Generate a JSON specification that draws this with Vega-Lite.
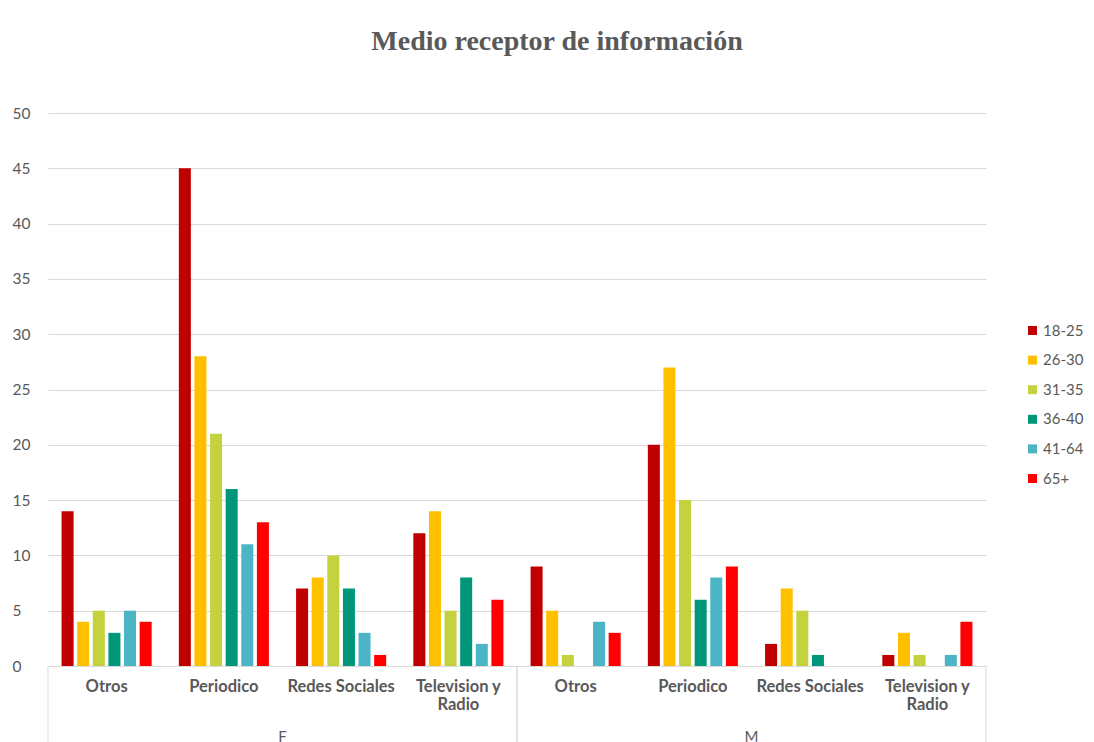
{
  "$schema": "https://vega.github.io/schema/vega-lite/v6.json",
  "autosize": "none",
  "width": 938,
  "height": 553,
  "padding": {"left": 48, "top": 113, "right": 108, "bottom": 76},
  "background": "white",
  "title": {
    "text": "Medio receptor de información",
    "font": "Liberation Serif",
    "fontSize": 28,
    "fontWeight": "bold",
    "color": "#595959",
    "anchor": "middle",
    "dx": 40,
    "offset": 50
  },
  "config": {
    "font": "Lato",
    "view": {"stroke": null}
  },
  "datasets": {
    "respuestas": [
      {"cat": "F|Otros", "edad": "18-25", "valor": 14},
      {"cat": "F|Otros", "edad": "26-30", "valor": 4},
      {"cat": "F|Otros", "edad": "31-35", "valor": 5},
      {"cat": "F|Otros", "edad": "36-40", "valor": 3},
      {"cat": "F|Otros", "edad": "41-64", "valor": 5},
      {"cat": "F|Otros", "edad": "65+", "valor": 4},
      {"cat": "F|Periodico", "edad": "18-25", "valor": 45},
      {"cat": "F|Periodico", "edad": "26-30", "valor": 28},
      {"cat": "F|Periodico", "edad": "31-35", "valor": 21},
      {"cat": "F|Periodico", "edad": "36-40", "valor": 16},
      {"cat": "F|Periodico", "edad": "41-64", "valor": 11},
      {"cat": "F|Periodico", "edad": "65+", "valor": 13},
      {"cat": "F|Redes Sociales", "edad": "18-25", "valor": 7},
      {"cat": "F|Redes Sociales", "edad": "26-30", "valor": 8},
      {"cat": "F|Redes Sociales", "edad": "31-35", "valor": 10},
      {"cat": "F|Redes Sociales", "edad": "36-40", "valor": 7},
      {"cat": "F|Redes Sociales", "edad": "41-64", "valor": 3},
      {"cat": "F|Redes Sociales", "edad": "65+", "valor": 1},
      {"cat": "F|Television y Radio", "edad": "18-25", "valor": 12},
      {"cat": "F|Television y Radio", "edad": "26-30", "valor": 14},
      {"cat": "F|Television y Radio", "edad": "31-35", "valor": 5},
      {"cat": "F|Television y Radio", "edad": "36-40", "valor": 8},
      {"cat": "F|Television y Radio", "edad": "41-64", "valor": 2},
      {"cat": "F|Television y Radio", "edad": "65+", "valor": 6},
      {"cat": "M|Otros", "edad": "18-25", "valor": 9},
      {"cat": "M|Otros", "edad": "26-30", "valor": 5},
      {"cat": "M|Otros", "edad": "31-35", "valor": 1},
      {"cat": "M|Otros", "edad": "41-64", "valor": 4},
      {"cat": "M|Otros", "edad": "65+", "valor": 3},
      {"cat": "M|Periodico", "edad": "18-25", "valor": 20},
      {"cat": "M|Periodico", "edad": "26-30", "valor": 27},
      {"cat": "M|Periodico", "edad": "31-35", "valor": 15},
      {"cat": "M|Periodico", "edad": "36-40", "valor": 6},
      {"cat": "M|Periodico", "edad": "41-64", "valor": 8},
      {"cat": "M|Periodico", "edad": "65+", "valor": 9},
      {"cat": "M|Redes Sociales", "edad": "18-25", "valor": 2},
      {"cat": "M|Redes Sociales", "edad": "26-30", "valor": 7},
      {"cat": "M|Redes Sociales", "edad": "31-35", "valor": 5},
      {"cat": "M|Redes Sociales", "edad": "36-40", "valor": 1},
      {"cat": "M|Television y Radio", "edad": "18-25", "valor": 1},
      {"cat": "M|Television y Radio", "edad": "26-30", "valor": 3},
      {"cat": "M|Television y Radio", "edad": "31-35", "valor": 1},
      {"cat": "M|Television y Radio", "edad": "41-64", "valor": 1},
      {"cat": "M|Television y Radio", "edad": "65+", "valor": 4}
    ],
    "grupos": [
      {"sexo": "F", "inicio": "F|Otros", "centro": "F|Periodico", "fin": "F|Television y Radio"},
      {"sexo": "M", "inicio": "M|Otros", "centro": "M|Periodico", "fin": "M|Television y Radio"}
    ]
  },
  "layer": [
    {
      "data": {"name": "respuestas"},
      "mark": {"type": "bar"},
      "encoding": {
        "x": {
          "field": "cat",
          "type": "nominal",
          "scale": {
            "domain": ["F|Otros", "F|Periodico", "F|Redes Sociales", "F|Television y Radio", "M|Otros", "M|Periodico", "M|Redes Sociales", "M|Television y Radio"],
            "paddingInner": 0,
            "paddingOuter": 0
          },
          "axis": {
            "title": null,
            "labelExpr": "indexof(datum.value, 'Television y Radio') >= 0 ? ['Television y', 'Radio'] : split(datum.value, '|')[1]",
            "labelAngle": 0,
            "labelFontSize": 16.5,
            "labelFontWeight": "bold",
            "labelColor": "#595959",
            "labelPadding": 12,
            "labelLineHeight": 18,
            "ticks": false,
            "domainColor": "#d9d9d9",
            "grid": false
          }
        },
        "xOffset": {
          "field": "edad",
          "type": "nominal",
          "scale": {"paddingInner": 0.23, "paddingOuter": 0.87}
        },
        "y": {
          "field": "valor",
          "type": "quantitative",
          "scale": {"domain": [0, 50], "nice": false},
          "axis": {
            "title": null,
            "values": [0, 5, 10, 15, 20, 25, 30, 35, 40, 45, 50],
            "domain": false,
            "ticks": false,
            "gridColor": "#d9d9d9",
            "labelAlign": "left",
            "labelPadding": 36,
            "labelFontSize": 15.5,
            "labelColor": "#595959"
          }
        },
        "color": {
          "field": "edad",
          "type": "nominal",
          "scale": {
            "domain": ["18-25", "26-30", "31-35", "36-40", "41-64", "65+"],
            "range": ["#C00000", "#FFC000", "#C4D23E", "#00967A", "#4BB5C6", "#FF0000"]
          },
          "legend": {
            "title": null,
            "orient": "none",
            "legendX": 977,
            "legendY": 210,
            "symbolType": "square",
            "symbolSize": 81,
            "symbolStrokeWidth": 0,
            "labelFontSize": 15,
            "labelColor": "#595959",
            "labelOffset": 3,
            "rowPadding": 13.6
          }
        }
      }
    },
    {
      "data": {"name": "grupos"},
      "mark": {"type": "rule", "color": "#d9d9d9", "strokeWidth": 1},
      "encoding": {
        "x": {"field": "inicio", "type": "nominal", "bandPosition": 0},
        "y": {"datum": 0},
        "y2": {"datum": -7}
      }
    },
    {
      "data": {"name": "grupos"},
      "mark": {"type": "rule", "color": "#d9d9d9", "strokeWidth": 1},
      "encoding": {
        "x": {"field": "fin", "type": "nominal", "bandPosition": 1},
        "y": {"datum": 0},
        "y2": {"datum": -7}
      }
    },
    {
      "data": {"name": "grupos"},
      "mark": {"type": "text", "fontSize": 15, "color": "#595959", "baseline": "middle"},
      "encoding": {
        "x": {"field": "centro", "type": "nominal", "bandPosition": 1},
        "y": {"datum": -6.45},
        "text": {"field": "sexo"}
      }
    }
  ]
}
